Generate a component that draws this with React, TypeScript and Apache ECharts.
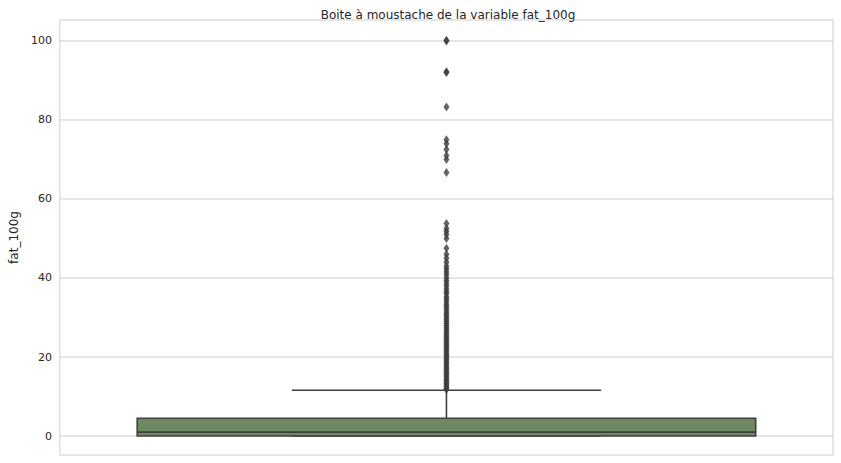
import { useEffect, useRef } from 'react'
import * as echarts from 'echarts'

const categories = ['fat_100g']
// [min whisker, Q1, median, Q3, max whisker]
const boxStats = [0, 0, 1, 4.5, 11.6]
const outliers = [
  11.8, 12.1, 12.5, 12.9, 13.3, 13.7, 14.1, 14.5, 15, 15.4, 15.8, 16.2, 16.7, 17.1, 17.5,
  18, 18.4, 18.8, 19.3, 19.7, 20.2, 20.6, 21, 21.5, 22, 22.4, 22.9, 23.3, 23.8, 24.2,
  24.7, 25.1, 25.6, 26, 26.5, 27, 27.5, 28, 28.5, 29, 29.5, 30, 30.6, 31, 31.6, 32.2,
  32.8, 33.3, 34, 34.6, 35.2, 36, 36.5, 37.2, 38, 38.6, 39.3, 40, 40.8, 41.5, 42.3,
  43, 44, 45, 46, 47.5, 50, 51, 51.8, 52.5, 53.8, 66.7, 70, 71, 72.5, 74, 75, 83.3,
  92, 92.2, 100, 100.2,
]
const yTicks = [0, 20, 40, 60, 80, 100]

export default function App() {
  const ref = useRef<HTMLDivElement>(null)

  useEffect(() => {
    document.body.style.margin = '0'
    if (!ref.current) return
    const chart = echarts.init(ref.current, undefined, { renderer: 'svg' })
    const font = 'DejaVu Sans, Arial, sans-serif'
    const edge = '#404040'

    chart.setOption({
      animation: false,
      title: {
        text: 'Boite à moustache de la variable fat_100g',
        left: 443,
        textAlign: 'center',
        top: 4,
        textStyle: { fontSize: 12, fontWeight: 'normal', color: '#262626', fontFamily: font },
      },
      grid: {
        left: 53, right: 8, top: 20, bottom: 8,
        show: true, borderColor: '#cccccc', borderWidth: 1,
      },
      xAxis: {
        type: 'category',
        data: categories,
        axisLabel: { show: false },
        axisTick: { show: false },
        axisLine: { show: false },
      },
      yAxis: {
        type: 'value',
        min: -4.8,
        max: 105.3,
        interval: 20,
        name: 'fat_100g',
        nameLocation: 'middle',
        nameGap: 36,
        nameTextStyle: { fontSize: 12, color: '#262626', fontFamily: font },
        axisLabel: {
          fontSize: 11, color: '#262626', fontFamily: font,
          customValues: yTicks,
        },
        axisTick: { show: false },
        axisLine: { show: false },
        splitLine: { show: false },
      },
      series: [
        {
          type: 'custom',
          silent: true,
          data: yTicks.map((v) => [v]),
          renderItem: (params: any, api: any) => {
            const y = api.coord([0, api.value(0)])[1]
            return {
              type: 'line',
              shape: { x1: params.coordSys.x, y1: y, x2: params.coordSys.x + params.coordSys.width, y2: y },
              style: { stroke: '#cccccc', lineWidth: 1 },
              z2: 0,
            }
          },
          z: 0,
        },
        {
          type: 'custom',
          data: [[0, ...boxStats]],
          renderItem: (params: any, api: any) => {
            const bw = api.size([1, 0])[0] * 0.8
            const cx = api.coord([api.value(0), 0])[0]
            const yMin = api.coord([0, api.value(1)])[1]
            const yQ1 = api.coord([0, api.value(2)])[1]
            const yMed = api.coord([0, api.value(3)])[1]
            const yQ3 = api.coord([0, api.value(4)])[1]
            const yMax = api.coord([0, api.value(5)])[1]
            const s = { stroke: edge, lineWidth: 1.6 }
            return {
              type: 'group',
              children: [
                { type: 'line', shape: { x1: cx, y1: yQ1, x2: cx, y2: yMin }, style: s },
                { type: 'line', shape: { x1: cx, y1: yQ3, x2: cx, y2: yMax }, style: s },
                { type: 'line', shape: { x1: cx - bw / 4, y1: yMax, x2: cx + bw / 4, y2: yMax }, style: s },
                { type: 'line', shape: { x1: cx - bw / 4, y1: yMin, x2: cx + bw / 4, y2: yMin }, style: s },
                {
                  type: 'rect',
                  shape: { x: cx - bw / 2, y: yQ3, width: bw, height: yQ1 - yQ3 },
                  style: { fill: '#6f8763', stroke: edge, lineWidth: 1.6 },
                },
                { type: 'line', shape: { x1: cx - bw / 2, y1: yMed, x2: cx + bw / 2, y2: yMed }, style: s },
              ],
            }
          },
          z: 2,
        },
        {
          type: 'scatter',
          data: outliers.map((v) => [0, v]),
          symbol: 'diamond',
          symbolSize: [6, 9],
          itemStyle: { color: '#3d3d3d' },
          z: 3,
        },
      ],
    })
    return () => chart.dispose()
  }, [])

  return <div ref={ref} style={{ width: 841, height: 463 }} />
}
